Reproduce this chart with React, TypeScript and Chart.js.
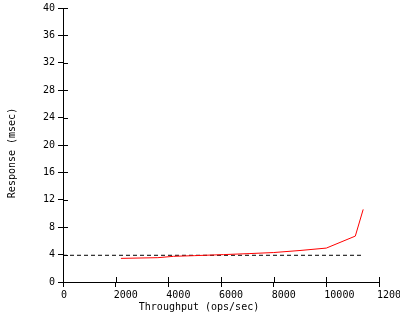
import React, { useEffect, useRef } from "react";
import { Chart, registerables } from "chart.js";

Chart.register(...registerables);

const throughput = [2200, 3600, 4200, 5000, 6100, 7100, 8000, 9000, 10000, 11100, 11400];
const response = [3.45, 3.55, 3.75, 3.85, 4.0, 4.15, 4.3, 4.6, 4.95, 6.7, 10.6];
const baselineX = [0, 11400];
const baselineY = [3.9, 3.9];
const xTitle = "Throughput (ops/sec)";
const yTitle = "Response (msec)";

const FONT = "'DejaVu Sans Mono', monospace";

const innerTicks = {
  id: "innerTicks",
  afterDraw(chart: any) {
    const { ctx, chartArea, scales } = chart;
    ctx.save();
    ctx.strokeStyle = "#000";
    ctx.lineWidth = 1;
    ctx.beginPath();
    scales.y.ticks.forEach((t: any) => {
      const py = Math.round(scales.y.getPixelForValue(t.value)) + 0.5;
      ctx.moveTo(chartArea.left, py);
      ctx.lineTo(chartArea.left + 5, py);
    });
    scales.x.ticks.forEach((t: any) => {
      const px = Math.round(scales.x.getPixelForValue(t.value)) + 0.5;
      ctx.moveTo(px, chartArea.bottom);
      ctx.lineTo(px, chartArea.bottom - 5);
    });
    ctx.stroke();
    ctx.fillStyle = "#000";
    ctx.font = `10px ${FONT}`;
    ctx.textAlign = "center";
    ctx.textBaseline = "middle";
    ctx.fillText(xTitle, 199, 307);
    ctx.translate(12, 153);
    ctx.rotate(-Math.PI / 2);
    ctx.fillText(yTitle, 0, 0);
    ctx.restore();
  },
};

export default function App() {
  const ref = useRef<HTMLCanvasElement>(null);
  useEffect(() => {
    if (!ref.current) return;
    const chart = new Chart(ref.current, {
      type: "line",
      data: {
        datasets: [
          {
            data: throughput.map((x, i) => ({ x, y: response[i] })),
            borderColor: "#ff0000",
            borderWidth: 1,
            pointRadius: 0,
            tension: 0,
            fill: false,
          },
          {
            data: baselineX.map((x, i) => ({ x, y: baselineY[i] })),
            borderColor: "#000000",
            borderWidth: 1,
            borderDash: [4, 3],
            pointRadius: 0,
            fill: false,
          },
        ],
      },
      options: {
        animation: false,
        responsive: false,
        maintainAspectRatio: false,
        layout: { padding: { top: 8, right: 21, left: 0, bottom: 0 } },
        plugins: { legend: { display: false }, tooltip: { enabled: false } },
        scales: {
          x: {
            type: "linear",
            min: 0,
            max: 12000,
            border: { display: true, color: "#000", width: 1 },
            grid: { drawOnChartArea: false, drawTicks: true, tickLength: 5, color: "#000" },
            ticks: {
              stepSize: 2000,
              color: "#000",
              font: { family: FONT, size: 10 },
              align: "start",
              labelOffset: -2,
              padding: 2,
              maxRotation: 0,
              autoSkip: false,
              callback: (v: any) => String(v),
            },
            afterFit: (s: any) => {
              s.height = 38;
              s.paddingLeft = 0;
              s.paddingRight = 0;
            },
          },
          y: {
            type: "linear",
            min: 0,
            max: 40,
            border: { display: true, color: "#000", width: 1 },
            grid: { drawOnChartArea: false, drawTicks: true, tickLength: 5, color: "#000" },
            ticks: {
              stepSize: 4,
              color: "#000",
              font: { family: FONT, size: 10 },
              padding: 3,
              autoSkip: false,
            },
            afterFit: (s: any) => {
              s.width = 63;
              s.paddingTop = 0;
              s.paddingBottom = 0;
            },
          },
        },
      },
      plugins: [innerTicks],
    } as any);
    return () => chart.destroy();
  }, []);
  return (
    <div style={{ position: "fixed", left: 0, top: 0, width: 400, height: 320, background: "#fff" }}>
      <canvas ref={ref} width={400} height={320} style={{ width: 400, height: 320, display: "block" }} />
    </div>
  );
}
